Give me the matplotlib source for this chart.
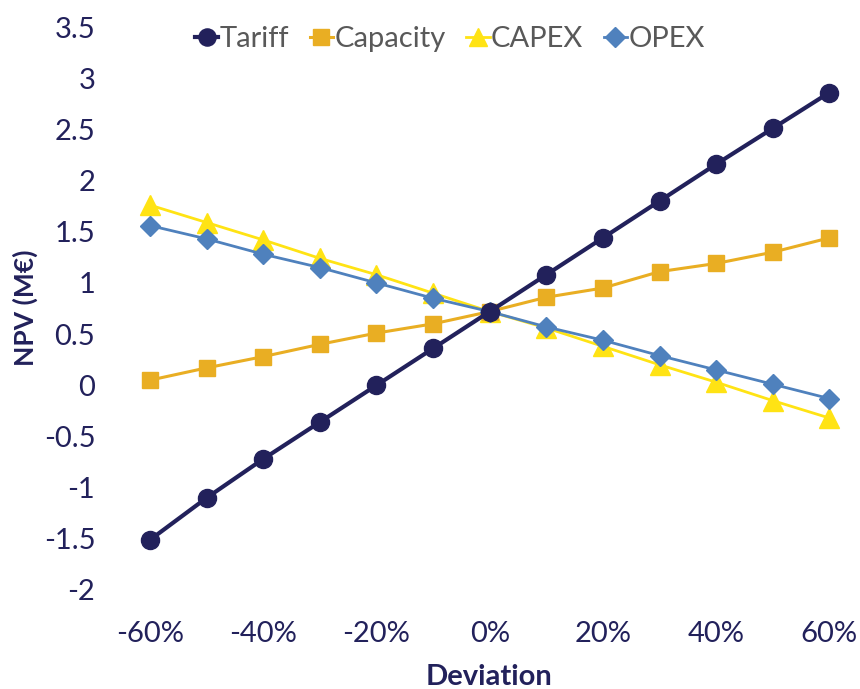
import matplotlib
matplotlib.use("Agg")
import matplotlib.pyplot as plt

deviation = [-60, -50, -40, -30, -20, -10, 0, 10, 20, 30, 40, 50, 60]
tariff = [-1.51, -1.10, -0.72, -0.36, 0.00, 0.36, 0.72, 1.08, 1.44, 1.80, 2.16, 2.51, 2.86]
capacity = [0.05, 0.17, 0.28, 0.40, 0.51, 0.60, 0.72, 0.86, 0.95, 1.11, 1.19, 1.30, 1.44]
capex = [1.76, 1.59, 1.42, 1.24, 1.08, 0.90, 0.72, 0.56, 0.38, 0.20, 0.03, -0.15, -0.32]
opex = [1.56, 1.43, 1.28, 1.15, 1.00, 0.85, 0.72, 0.57, 0.44, 0.29, 0.15, 0.01, -0.13]

x_ticks = [-60, -40, -20, 0, 20, 40, 60]
x_tick_labels = ["-60%", "-40%", "-20%", "0%", "20%", "40%", "60%"]
y_ticks = [-2, -1.5, -1, -0.5, 0, 0.5, 1, 1.5, 2, 2.5, 3, 3.5]
y_tick_labels = ["-2", "-1.5", "-1", "-0.5", "0", "0.5", "1", "1.5", "2", "2.5", "3", "3.5"]

navy = "#22215B"
plt.rcParams["font.family"] = ["Lato", "DejaVu Sans"]

fig = plt.figure(figsize=(8.6, 6.89), dpi=100)
ax = fig.add_axes([121.7 / 860, 1 - 590 / 689, 736 / 860, (590 - 27) / 689])

ax.plot(deviation, tariff, color=navy, lw=3, marker="o", ms=13, label="Tariff", zorder=5)
ax.plot(deviation, capacity, color="#E9AE23", lw=2.2, marker="s", ms=12, label="Capacity", zorder=4)
ax.plot(deviation, capex, color="#FFE314", lw=2, marker="^", ms=14, label="CAPEX", zorder=3)
ax.plot(deviation, opex, color="#4F81BD", lw=2, marker="D", ms=10.5, label="OPEX", zorder=4)

ax.set_xlim(-65, 65)
ax.set_ylim(-2, 3.5)
ax.set_xticks(x_ticks, x_tick_labels)
ax.set_yticks(y_ticks, y_tick_labels)
ax.tick_params(length=0, labelsize=21, colors=navy)
ax.tick_params(axis="y", pad=19)
ax.tick_params(axis="x", pad=22)
for s in ax.spines.values():
    s.set_visible(False)

fig.text(489 / 860, 1 - 677 / 689, "Deviation", fontsize=21, fontweight="bold",
         color=navy, ha="center", va="center")
fig.text(25 / 860, 1 - 308 / 689, "NPV (M€)", fontsize=19, fontweight="bold",
         color=navy, ha="center", va="center", rotation=90)

leg = ax.legend(loc="center", bbox_to_anchor=(450 / 860, 1 - 39 / 689),
                bbox_transform=fig.transFigure, ncol=4, frameon=False,
                fontsize=21, handlelength=0.8, handletextpad=0.05,
                columnspacing=0.7, markerscale=0.95, borderpad=0)
for t in leg.get_texts():
    t.set_color("#595959")

fig.savefig("out.png", dpi=100)
